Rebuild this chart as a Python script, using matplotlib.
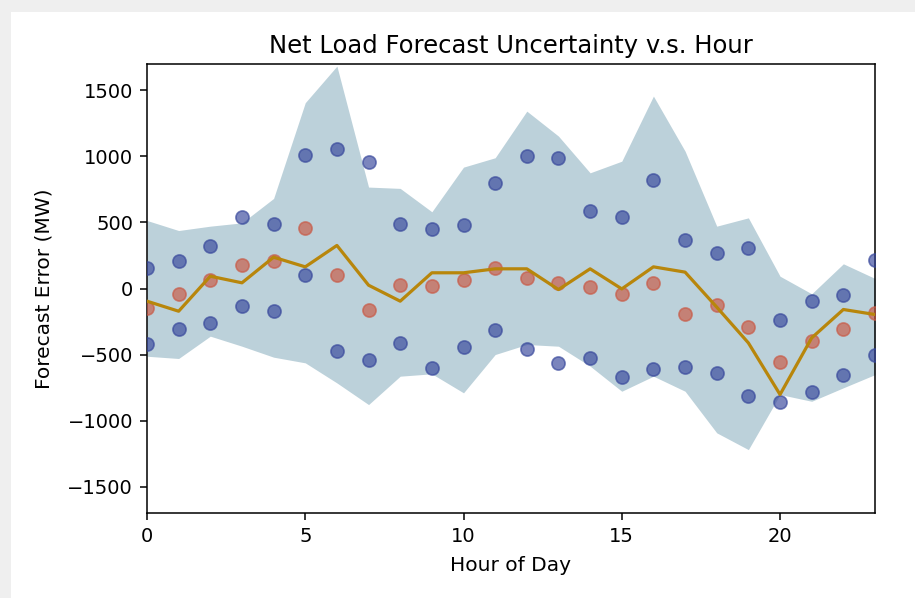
import numpy as np
import matplotlib
matplotlib.use('Agg')
import matplotlib.pyplot as plt
from matplotlib.patches import Rectangle

# data
hours = list(range(24))

upper_pts = [157, 207, 320, 540, 490, 1010, 1060, 957, 490, 447, 480, 800,
             1007, 990, 590, 543, 818, 364, 270, 308, -235, -96, -50, 214]
lower_pts = [-419, -303, -262, -134, -172, 106, -470, -545, -412, -601, -444, -318,
             -457, -563, -525, -667, -606, -596, -639, -811, -861, -783, -652, -500]
mid_pts = [-146, -40, 68, 177, 212, 460, 106, -164, 30, 18, 68, 157,
           81, 43, 10, -45, 43, -192, -126, -293, -556, -399, -303, -184]
mean_line = [-96, -172, 93, 43, 237, 164, 326, 25, -96, 119, 119, 149,
             149, -8, 149, -3, 164, 124, -141, -412, -803, -374, -159, -197]
band_hi = [515, 439, 472, 497, 682, 1407, 1684, 768, 758, 581, 919, 990,
           1343, 1154, 876, 964, 1457, 1040, 472, 535, 93, -40, 187, 76]
band_lo = [-513, -530, -361, -437, -520, -563, -715, -879, -664, -646, -790, -500,
           -424, -437, -588, -778, -664, -778, -1093, -1220, -803, -854, -752, -652]

C_BAND = '#bcd1da'
C_BLUE = '#34449a'
C_RED = '#c95641'
C_LINE = '#b8860b'

fig = plt.figure(figsize=(9.15, 5.98), dpi=100)
fig.patch.set_facecolor('#efefef')
# white page area (screenshot frame)
fig.patches.append(Rectangle((11 / 915, 0), 1, 1 - 12 / 598, transform=fig.transFigure,
                             facecolor='white', edgecolor='none', zorder=-1))

ax = fig.add_axes([147 / 915, 85 / 598, 728 / 915, 449 / 598])
ax.set_facecolor('white')

ax.fill_between(hours, band_lo, band_hi, color=C_BAND, linewidth=0, zorder=1)
ax.scatter(hours, upper_pts, s=90, color=C_BLUE, alpha=0.65,
           edgecolors=C_BLUE, linewidths=1.2, zorder=3)
ax.scatter(hours, lower_pts, s=90, color=C_BLUE, alpha=0.65,
           edgecolors=C_BLUE, linewidths=1.2, zorder=3)
ax.scatter(hours, mid_pts, s=90, color=C_RED, alpha=0.65,
           edgecolors=C_RED, linewidths=1.2, zorder=3)
ax.plot(hours, mean_line, color=C_LINE, linewidth=2.3, zorder=4)

ax.set_xlim(0, 23)
ax.set_ylim(-1700, 1700)
ax.set_xticks([0, 5, 10, 15, 20])
ax.set_yticks([-1500, -1000, -500, 0, 500, 1000, 1500])
ax.tick_params(labelsize=14, length=5, width=1.1, pad=5)
for sp in ax.spines.values():
    sp.set_linewidth(1.1)
ax.set_title('Net Load Forecast Uncertainty v.s. Hour', fontsize=17.5, pad=8)
ax.set_xlabel('Hour of Day', fontsize=14.5, labelpad=7)
ax.set_ylabel('Forecast Error (MW)', fontsize=14.5, labelpad=10)

plt.savefig('out.png', dpi=100, facecolor=fig.get_facecolor())
plt.close()
